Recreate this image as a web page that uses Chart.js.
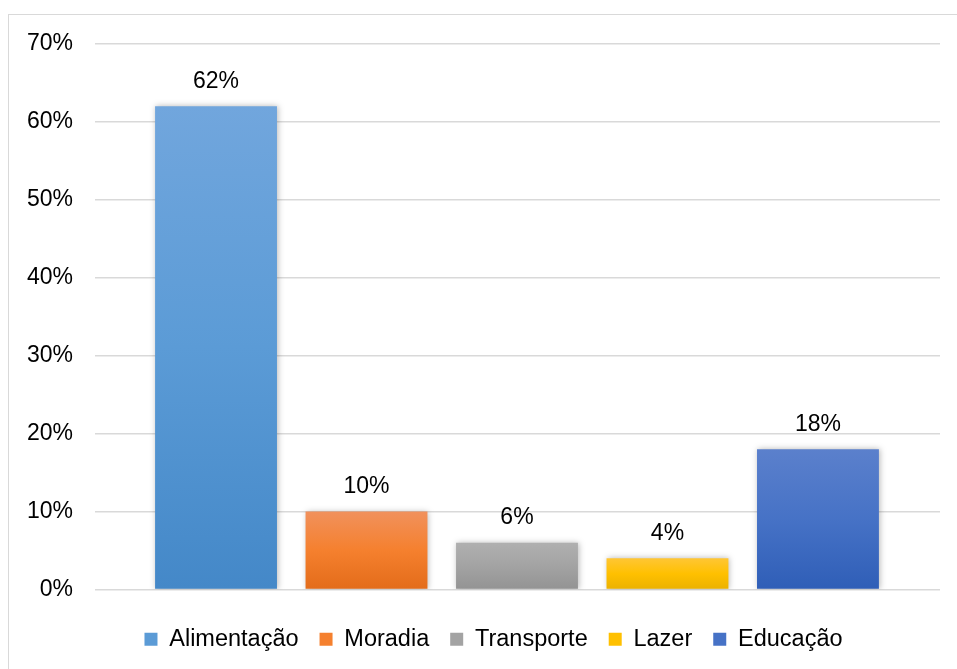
<!DOCTYPE html>
<html>
<head>
<meta charset="utf-8">
<script src="https://cdn.jsdelivr.net/npm/chart.js@4.4.0/dist/chart.umd.min.js"></script>
<style>
  html, body { margin: 0; padding: 0; background: #fff; overflow: hidden; }
  #wrap { position: relative; width: 957px; height: 669px; }
  #frame { position: absolute; left: 8px; top: 14px; width: 1000px; height: 1000px; border: 1.5px solid #d9d9d9; box-sizing: border-box; }
  canvas { position: absolute; left: 0; top: 0; }
</style>
</head>
<body>
<div id="wrap">
  <div id="frame"></div>
  <canvas id="c" width="957" height="669"></canvas>
</div>
<script>
const categories = ['Alimentação', 'Moradia', 'Transporte', 'Lazer', 'Educação'];
const values = [62, 10, 6, 4, 18];
const tickLabels = ['0%', '10%', '20%', '30%', '40%', '50%', '60%', '70%'];
const topColors = ['#71a6dd', '#f1915c', '#b0b0b0', '#ffc634', '#5b80cc'];
const midColors = ['#5b9bd6', '#f5802e', '#a3a3a3', '#ffc000', '#4672c6'];
const bottomColors = ['#4488c8', '#e36c1a', '#939393', '#ebb100', '#2f5eb7'];

const FONT = '"Liberation Sans", Arial, sans-serif';
const X_MIN = -0.804, X_MAX = 4.811;

function gradientFor(i) {
  return function (ctx) {
    const chart = ctx.chart;
    if (!chart.chartArea || !chart.scales.y) return midColors[i];
    const y = chart.scales.y;
    const y0 = y.getPixelForValue(values[i]);
    const y1 = y.getPixelForValue(0);
    const g = chart.ctx.createLinearGradient(0, y0, 0, y1);
    g.addColorStop(0, topColors[i]);
    g.addColorStop(0.5, midColors[i]);
    g.addColorStop(1, bottomColors[i]);
    return g;
  };
}

const datasets = categories.map((name, i) => ({
  label: name,
  data: [{ x: i, y: values[i] }],
  backgroundColor: gradientFor(i),
  borderWidth: 0,
  barPercentage: 0.81,
  categoryPercentage: 1.0,
  grouped: false
}));

const shadowPlugin = {
  id: 'barShadow',
  beforeDatasetDraw(chart) {
    const c = chart.ctx;
    c.save();
    c.shadowColor = 'rgba(0,0,0,0.28)';
    c.shadowBlur = 6;
    c.shadowOffsetX = 1;
    c.shadowOffsetY = 0;
  },
  afterDatasetDraw(chart) {
    chart.ctx.restore();
  }
};

const legendShift = {
  id: 'legendShift',
  afterLayout(chart) {
    if (chart.legend) {
      chart.legend.left += 21;
      chart.legend.right += 21;
    }
  }
};

const labelPlugin = {
  id: 'valueLabels',
  afterDatasetsDraw(chart) {
    const c = chart.ctx;
    c.save();
    c.font = '23px ' + FONT;
    c.fillStyle = '#000';
    c.textAlign = 'center';
    c.textBaseline = 'middle';
    chart.data.datasets.forEach((ds, i) => {
      const meta = chart.getDatasetMeta(i);
      const el = meta.data[0];
      if (!el) return;
      c.fillText(values[i] + '%', el.x, el.y - 25);
    });
    c.restore();
  }
};

new Chart(document.getElementById('c'), {
  type: 'bar',
  data: { datasets },
  options: {
    responsive: false,
    animation: false,
    devicePixelRatio: 1,
    layout: { padding: { left: 5, right: 17, top: 44, bottom: 8 } },
    scales: {
      x: {
        type: 'linear',
        display: true,
        offset: false,
        bounds: 'data',
        min: X_MIN,
        max: X_MAX,
        border: { display: false },
        grid: { display: false, offset: false },
        ticks: { display: false },
        afterBuildTicks: (s) => {
          s.ticks = categories.map((_, i) => ({ value: i }));
          s.min = X_MIN;
          s.max = X_MAX;
        },
        afterFit: (s) => { s.height = 17; }
      },
      y: {
        min: 0,
        max: 70,
        border: { display: false },
        grid: { color: '#d9d9d9', lineWidth: 1.5, drawTicks: false },
        ticks: {
          stepSize: 10,
          padding: 22,
          color: '#000',
          font: { size: 23, family: FONT },
          callback: (v) => tickLabels[Math.round(v / 10)]
        }
      }
    },
    plugins: {
      legend: {
        position: 'bottom',
        labels: {
          boxWidth: 13,
          boxHeight: 13,
          padding: 21,
          color: '#000',
          font: { size: 23.5, family: FONT },
          generateLabels: (chart) => chart.data.datasets.map((ds, i) => ({
            text: ds.label,
            fillStyle: midColors[i],
            strokeStyle: 'rgba(0,0,0,0)',
            lineWidth: 0,
            hidden: false,
            datasetIndex: i
          }))
        }
      },
      tooltip: { enabled: false }
    }
  },
  plugins: [shadowPlugin, labelPlugin, legendShift]
});
</script>
</body>
</html>
